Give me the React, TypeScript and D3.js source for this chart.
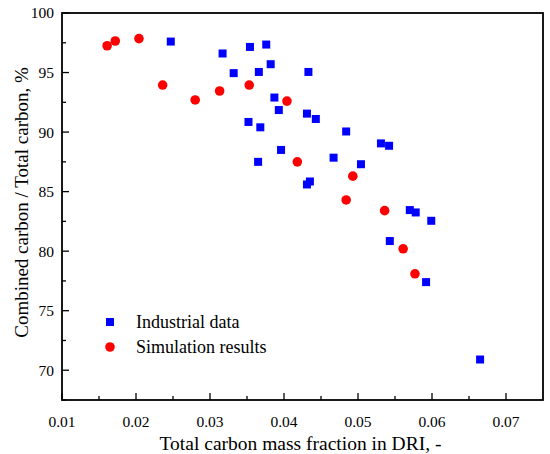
import React from 'react';
import * as d3 from 'd3';

// industrial data (total carbon fraction, combined / total carbon %)
const industrialX = [
  0.0247, 0.0317, 0.0354, 0.0376, 0.0332, 0.0366, 0.0382, 0.0433, 0.0387, 0.0393,
  0.0431, 0.0443, 0.0352, 0.0368, 0.0396, 0.0365, 0.0431, 0.0435, 0.0467, 0.0484,
  0.0531, 0.0542, 0.0504, 0.0570, 0.0578, 0.0599, 0.0543, 0.0592, 0.0665,
];
const industrialY = [
  97.6, 96.6, 97.15, 97.35, 94.95, 95.05, 95.7, 95.05, 92.9, 91.85,
  91.55, 91.1, 90.85, 90.4, 88.5, 87.5, 85.6, 85.85, 87.85, 90.05,
  89.05, 88.85, 87.3, 83.45, 83.25, 82.55, 80.85, 77.4, 70.9,
];

// simulation results
const simX = [
  0.0161, 0.0172, 0.0204, 0.0236, 0.0280, 0.0313, 0.0353, 0.0404, 0.0418, 0.0493,
  0.0484, 0.0536, 0.0561, 0.0577,
];
const simY = [
  97.25, 97.65, 97.85, 93.95, 92.7, 93.45, 93.95, 92.6, 87.5, 86.3,
  84.3, 83.4, 80.2, 78.1,
];

const xTicks = [0.01, 0.02, 0.03, 0.04, 0.05, 0.06, 0.07];
const yTicks = [70, 75, 80, 85, 90, 95, 100];
const legendLabels = ['Industrial data', 'Simulation results'];

const W = 550;
const H = 454;
const m = { left: 62, right: 543, top: 13, bottom: 400 };
const font = "'Times New Roman', 'Liberation Serif', 'DejaVu Serif', Times, serif";

export default function App() {
  const x = d3.scaleLinear().domain([0.01, 0.075]).range([m.left, m.right]);
  const y = d3.scaleLinear().domain([67.5, 100]).range([m.bottom, m.top]);

  const xMinor = d3.range(0.015, 0.075, 0.01);
  const yMinor = d3.range(67.5, 100, 5);
  const sq = 8;

  return (
    <svg width={W} height={H} style={{ position: 'absolute', left: 0, top: 0 }}>
      <rect width={W} height={H} fill="white" />
      <g style={{ fontFamily: font }}>

      {/* ticks */}
      {xTicks.map(t => (
        <g key={'xt' + t}>
          <line x1={x(t)} x2={x(t)} y1={m.bottom} y2={m.bottom - 7} stroke="black" strokeWidth={1.3} />
          <text x={x(t)} y={427} fontSize={15.5} textAnchor="middle">{t.toFixed(2)}</text>
        </g>
      ))}
      {xMinor.map(t => (
        <line key={'xm' + t} x1={x(t)} x2={x(t)} y1={m.bottom} y2={m.bottom - 4} stroke="black" strokeWidth={1.3} />
      ))}
      {yTicks.map(t => (
        <g key={'yt' + t}>
          <line x1={m.left} x2={m.left + 7} y1={y(t)} y2={y(t)} stroke="black" strokeWidth={1.3} />
          <text x={54} y={y(t)} dy="0.35em" fontSize={15.5} textAnchor="end">{t}</text>
        </g>
      ))}
      {yMinor.map(t => (
        <line key={'ym' + t} x1={m.left} x2={m.left + 4} y1={y(t)} y2={y(t)} stroke="black" strokeWidth={1.3} />
      ))}

      {/* points */}
      {industrialX.map((v, i) => (
        <rect key={'b' + i} x={x(v) - sq / 2} y={y(industrialY[i]) - sq / 2} width={sq} height={sq} fill="#0000ff" />
      ))}
      {simX.map((v, i) => (
        <circle key={'r' + i} cx={x(v)} cy={y(simY[i])} r={4.8} fill="#ff0000" />
      ))}

      {/* frame */}
      <rect x={m.left} y={m.top} width={m.right - m.left} height={m.bottom - m.top}
        fill="none" stroke="black" strokeWidth={1.8} />

      {/* legend */}
      <rect x={110 - sq / 2} y={322 - sq / 2} width={sq} height={sq} fill="#0000ff" />
      <text x={136} y={322} dy="0.35em" fontSize={18}>{legendLabels[0]}</text>
      <circle cx={110} cy={347} r={4.8} fill="#ff0000" />
      <text x={136} y={347} dy="0.35em" fontSize={18}>{legendLabels[1]}</text>

      {/* axis titles */}
      <text x={(m.left + m.right) / 2 - 2} y={450} fontSize={19.5} textAnchor="middle">
        Total carbon mass fraction in DRI, -
      </text>
      <text transform={`translate(28,${(m.top + m.bottom) / 2 - 4}) rotate(-90)`} fontSize={19} textAnchor="middle">
        Combined carbon / Total carbon, %
      </text>
      </g>
    </svg>
  );
}
